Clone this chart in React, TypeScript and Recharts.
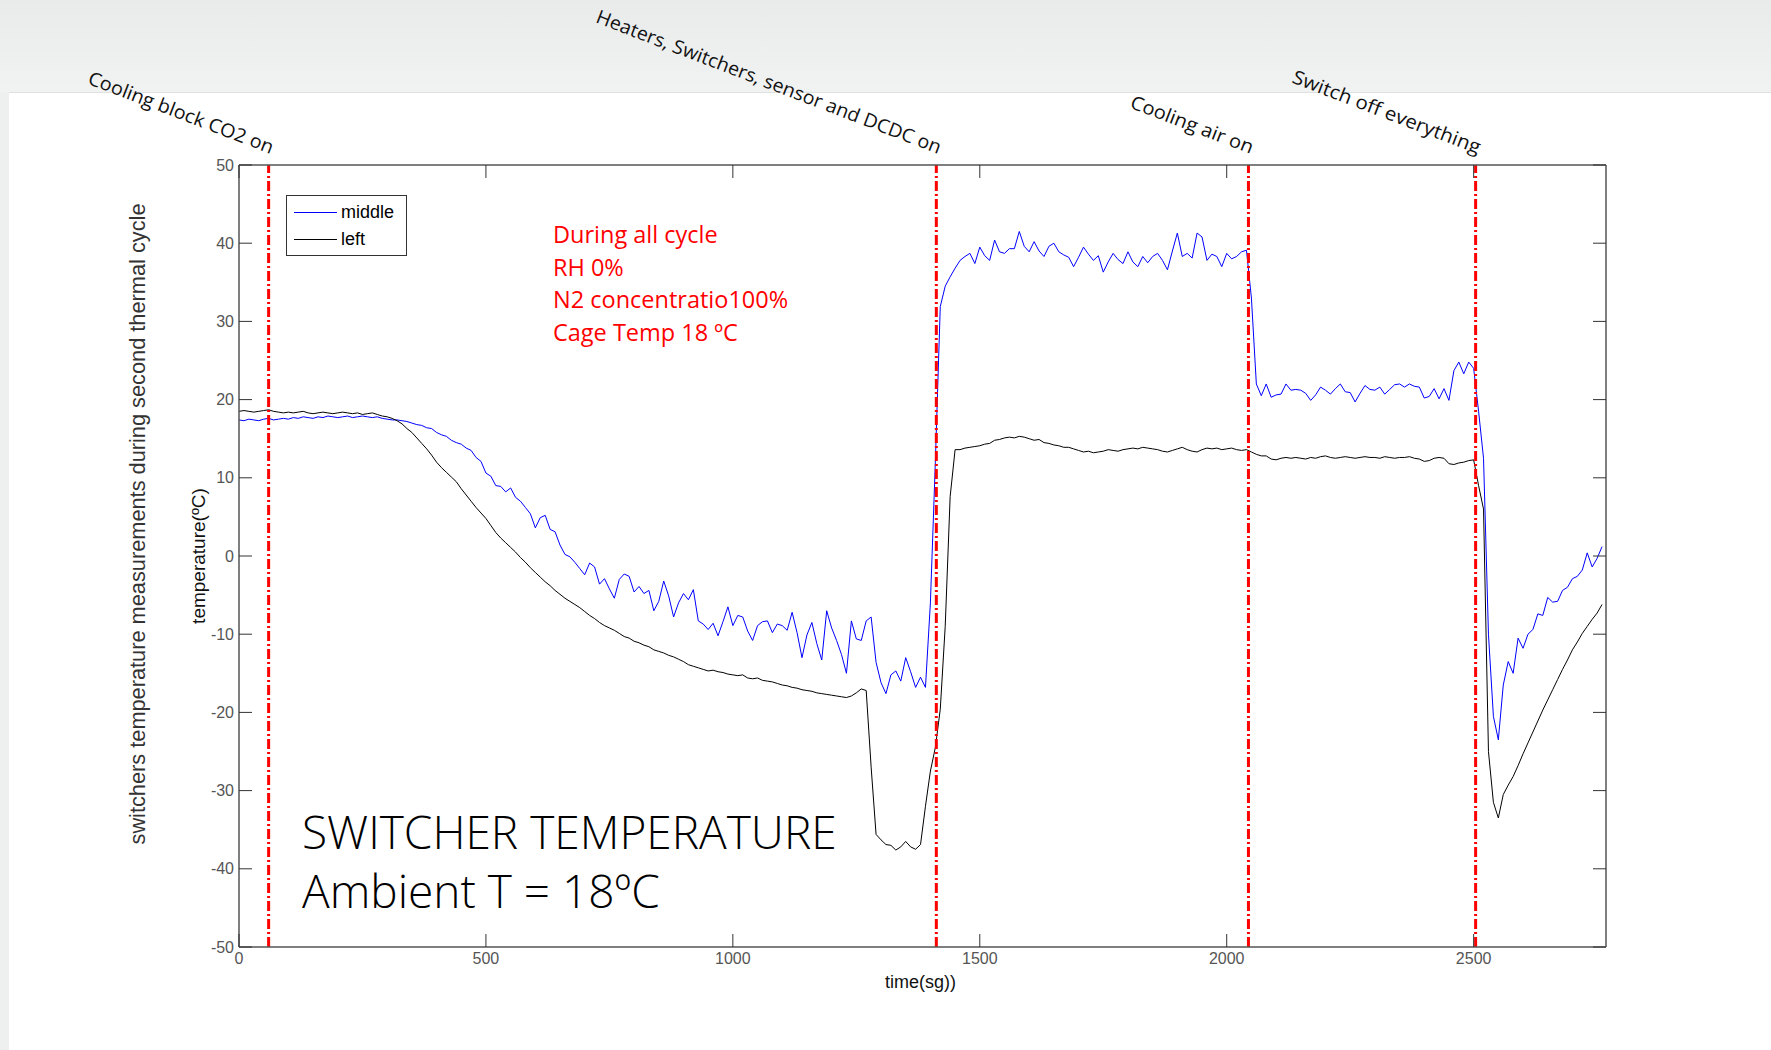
import React from "react";
import { LineChart, Line, XAxis, YAxis, ReferenceLine, Legend } from "recharts";

// one reading every 10 s, starting at t = 0
const SAMPLE_STEP = 10;

const middleTemp: number[] = [
  17.4, 17.3, 17.5, 17.4, 17.3, 17.5, 17.6, 17.4, 17.5, 17.6,
  17.5, 17.7, 17.6, 17.8, 17.7, 17.6, 17.8, 17.7, 17.9, 17.8,
  17.7, 17.8, 17.9, 17.7, 17.8, 17.9, 17.8, 17.7, 17.8, 17.6,
  17.5, 17.4, 17.4, 17.3, 17.2, 17.0, 16.8, 16.7, 16.4, 16.3,
  15.8, 15.5, 15.3, 14.8, 14.5, 14.3, 13.8, 13.5, 12.6, 12.1,
  10.6, 10.2, 9.0, 8.9, 8.2, 8.7, 7.5, 7.0, 6.2, 5.4,
  3.6, 4.9, 5.2, 3.4, 3.1, 1.4, 0.2, -0.1, -0.8, -1.6,
  -2.4, -0.9, -1.4, -3.6, -2.9, -4.2, -5.4, -3.0, -2.3, -2.6,
  -4.6, -3.9, -4.8, -4.4, -7.0, -5.8, -3.2, -5.1, -7.8, -6.0,
  -4.8, -5.6, -4.3, -8.3, -8.7, -9.4, -8.6, -10.2, -8.4, -6.5,
  -8.9, -7.6, -7.8, -9.6, -10.8, -8.9, -8.4, -8.3, -9.8, -8.7,
  -8.9, -9.5, -7.2, -9.8, -13.0, -10.1, -8.5, -11.2, -13.3, -7.0,
  -9.2, -10.8, -12.6, -15.0, -8.3, -10.6, -10.8, -8.3, -7.8, -13.6,
  -16.2, -17.6, -15.2, -14.7, -16.0, -13.0, -14.8, -16.8, -15.5, -16.8,
  -6.0, 12.0, 31.9, 34.5, 35.7, 36.8, 37.8, 38.3, 38.7, 37.4,
  39.5, 38.4, 37.8, 40.4, 38.9, 38.7, 39.3, 39.3, 41.5, 39.6,
  38.9, 40.2, 39.0, 38.3, 39.6, 40.0, 38.9, 38.5, 38.2, 37.0,
  38.2, 39.5, 38.6, 37.8, 38.4, 36.3, 37.6, 38.7, 37.9, 37.4,
  38.9, 37.6, 37.0, 38.3, 37.5, 38.3, 38.7, 37.8, 36.6, 39.0,
  41.3, 38.3, 38.7, 38.1, 41.3, 40.8, 37.8, 38.6, 38.3, 37.0,
  38.7, 38.0, 38.3, 38.9, 39.1, 33.0, 22.0, 20.5, 22.0, 20.3,
  20.6, 20.7, 22.0, 21.2, 21.3, 21.2, 20.8, 19.9, 20.6, 21.6,
  21.2, 20.7, 21.4, 22.0, 21.0, 20.9, 19.7, 20.8, 21.8, 21.3,
  21.2, 21.6, 20.7, 21.3, 21.9, 22.0, 21.6, 22.0, 21.7, 21.6,
  20.2, 20.4, 21.4, 20.1, 21.4, 19.9, 23.7, 24.8, 23.3, 24.8,
  24.0, 18.5, 12.5, -10.0, -20.5, -23.5, -16.5, -13.5, -15.0, -10.5,
  -11.8, -10.0, -9.4, -7.4, -7.6, -5.3, -5.9, -5.8, -4.4, -4.0,
  -2.9, -2.6, -1.8, 0.4, -1.4, -0.3, 1.2,
];

const leftTemp: number[] = [
  18.5, 18.6, 18.5, 18.4, 18.5, 18.6, 18.7, 18.5, 18.4, 18.3,
  18.4, 18.3, 18.4, 18.5, 18.3, 18.2, 18.3, 18.4, 18.3, 18.2,
  18.3, 18.4, 18.3, 18.2, 18.3, 18.1, 18.2, 18.3, 18.1, 17.9,
  17.8, 17.6, 17.3, 16.9, 16.3, 15.8, 15.1, 14.4, 13.7, 12.9,
  12.0, 11.3, 10.7, 10.1, 9.5, 8.6, 7.8, 7.0, 6.2, 5.5,
  4.8, 3.9, 3.0, 2.3, 1.7, 1.1, 0.5, -0.2, -0.8, -1.5,
  -2.1, -2.7, -3.3, -3.8, -4.4, -4.9, -5.4, -5.8, -6.2, -6.6,
  -7.1, -7.6, -8.0, -8.5, -8.9, -9.2, -9.5, -9.9, -10.3, -10.5,
  -10.9, -11.1, -11.4, -11.6, -12.0, -12.2, -12.4, -12.7, -12.9, -13.2,
  -13.5, -13.9, -14.1, -14.3, -14.5, -14.7, -14.6, -14.8, -14.9, -15.1,
  -15.2, -15.3, -15.2, -15.6, -15.7, -15.6, -15.9, -16.0, -16.1, -16.3,
  -16.5, -16.6, -16.8, -16.9, -17.1, -17.2, -17.3, -17.5, -17.6, -17.7,
  -17.8, -17.9, -18.0, -18.1, -17.9, -17.5, -17.0, -17.2, -27.0, -35.6,
  -36.3, -36.9, -37.0, -37.6, -37.2, -36.5, -37.2, -37.5, -36.9, -32.0,
  -27.5, -24.5, -19.6, -9.0, 7.6, 13.6, 13.6, 13.8, 13.9, 14.0,
  14.1, 14.3, 14.4, 14.8, 14.9, 15.1, 15.2, 15.1, 15.3, 15.2,
  15.0, 14.8, 14.9, 14.5, 14.4, 14.2, 14.1, 13.9, 13.9, 13.7,
  13.5, 13.3, 13.4, 13.2, 13.3, 13.4, 13.6, 13.5, 13.4, 13.6,
  13.7, 13.8, 13.7, 13.9, 13.8, 13.7, 13.6, 13.4, 13.3, 13.5,
  13.7, 13.9, 13.6, 13.4, 13.3, 13.6, 13.8, 13.7, 13.8, 13.6,
  13.7, 13.8, 13.6, 13.5, 13.6, 13.3, 13.0, 12.8, 12.8, 12.4,
  12.3, 12.5, 12.6, 12.5, 12.6, 12.5, 12.4, 12.6, 12.5, 12.7,
  12.8, 12.6, 12.5, 12.6, 12.7, 12.6, 12.5, 12.6, 12.7, 12.6,
  12.6, 12.5, 12.7, 12.6, 12.5, 12.6, 12.6, 12.7, 12.5, 12.4,
  12.1, 12.2, 12.5, 12.6, 12.5, 11.8, 11.7, 11.9, 12.0, 12.2,
  12.3, 9.0, 6.0, -25.0, -31.5, -33.5, -30.5, -29.3, -28.2, -26.8,
  -25.3, -23.9, -22.5, -21.1, -19.7, -18.4, -17.1, -15.8, -14.5, -13.3,
  -12.0, -11.0, -9.9, -9.0, -8.1, -7.3, -6.2,
];

const seriesNames = ["middle", "left"];

const xTicks = [0, 500, 1000, 1500, 2000, 2500];
const yTicks = [-50, -40, -30, -20, -10, 0, 10, 20, 30, 40, 50];

const eventTimes = [60, 1412, 2044, 2504];
const eventLabels = [
  "Cooling block CO2 on",
  "Heaters, Switchers, sensor and DCDC on",
  "Cooling air on",
  "Switch off everything",
];

const noteLines = ["During all cycle", "RH 0%", "N2 concentratio100%", "Cage Temp 18 ºC"];
const titleLines = ["SWITCHER TEMPERATURE", "Ambient T = 18ºC"];

const data = middleTemp.map((v, i) => ({
  t: i * SAMPLE_STEP,
  middle: v,
  left: leftTemp[i],
}));

const AXIS_FONT = "'Liberation Sans', Arial, sans-serif";
const TICK_LEN = 13;
// widths the rotated notes take in the original slide
const eventLabelLengths = [197, 368, 130, 200];

const BottomTick = (props: any) => {
  const { x, y, payload } = props;
  const base = y - 6;
  return (
    <g>
      <line x1={x} y1={base} x2={x} y2={base - TICK_LEN} stroke="#333" />
      <text x={x} y={y} dy="0.71em" textAnchor="middle" fontFamily={AXIS_FONT} fontSize={16} fill="#555">
        {payload.value}
      </text>
    </g>
  );
};

const LeftTick = (props: any) => {
  const { x, y, payload } = props;
  const base = x + 5;
  return (
    <g>
      <line x1={base} y1={y} x2={base + TICK_LEN} y2={y} stroke="#333" />
      <text x={x} y={y} dy="0.35em" textAnchor="end" fontFamily={AXIS_FONT} fontSize={16} fill="#555">
        {payload.value}
      </text>
    </g>
  );
};

const TopTick = (props: any) => {
  const { x, y } = props;
  return <line x1={x} y1={y} x2={x} y2={y + TICK_LEN} stroke="#333" />;
};

const RightTick = (props: any) => {
  const { x, y } = props;
  return <line x1={x} y1={y} x2={x - TICK_LEN} y2={y} stroke="#333" />;
};

const renderLegend = (props: any) => {
  const items = [...(props.payload || [])].sort(
    (a: any, b: any) => seriesNames.indexOf(a.value) - seriesNames.indexOf(b.value)
  );
  return (
    <div
      style={{
        border: "1px solid #333",
        background: "#fff",
        boxSizing: "border-box",
        width: 121,
        height: 61,
        paddingTop: 3,
        fontFamily: AXIS_FONT,
        fontSize: 18,
        color: "#000",
      }}
    >
      {items.map((entry: any) => (
        <div key={entry.value} style={{ display: "flex", alignItems: "center", height: 27 }}>
          <span
            style={{
              display: "inline-block",
              width: 43,
              borderTop: `1px solid ${entry.color}`,
              marginLeft: 7,
              marginRight: 4,
            }}
          />
          <span>{entry.value}</span>
        </div>
      ))}
    </div>
  );
};

export default function App() {
  return (
    <div
      style={{
        position: "absolute",
        left: 0,
        top: 0,
        width: 1771,
        height: 1050,
        overflow: "hidden",
        background: "linear-gradient(to bottom, #e9ebeb 0px, #f1f2f2 92px, #eef0f0 93px)",
      }}
    >
      <div
        style={{
          position: "absolute",
          left: 9,
          top: 92,
          right: 0,
          bottom: 0,
          background: "#fff",
          borderTop: "1px solid #dfe1e1",
        }}
      />
      <div style={{ position: "absolute", left: 0, top: 0 }}>
        <LineChart
          width={1771}
          height={1050}
          data={data}
          margin={{ top: 164, right: 164, bottom: 73, left: 199 }}
        >
          <XAxis
            dataKey="t"
            type="number"
            domain={[0, 2768]}
            ticks={xTicks}
            interval={0}
            allowDataOverflow
            height={30}
            tickSize={0}
            tickMargin={6}
            tickLine={false}
            axisLine={{ stroke: "#555", strokeWidth: 1.5 }}
            tick={<BottomTick />}
            label={(p: any) => {
              const vb = p.viewBox;
              return (
                <text
                  x={vb.x + vb.width / 2 - 2}
                  y={vb.y + 41}
                  textAnchor="middle"
                  fontFamily={AXIS_FONT}
                  fontSize={18}
                  fill="#111"
                >
                  time(sg))
                </text>
              );
            }}
          />
          <XAxis
            xAxisId="top"
            orientation="top"
            dataKey="t"
            type="number"
            domain={[0, 2768]}
            ticks={xTicks}
            interval={0}
            allowDataOverflow
            height={1}
            tickSize={0}
            tickMargin={0}
            tickLine={false}
            axisLine={{ stroke: "#555", strokeWidth: 1.5 }}
            tick={<TopTick />}
          />
          <YAxis
            type="number"
            domain={[-50, 50]}
            ticks={yTicks}
            interval={0}
            allowDataOverflow
            width={40}
            tickSize={0}
            tickMargin={5}
            tickLine={false}
            axisLine={{ stroke: "#555", strokeWidth: 1.5 }}
            tick={<LeftTick />}
            label={(p: any) => {
              const vb = p.viewBox;
              const cx = vb.x + vb.width - 41;
              const cy = vb.y + vb.height / 2;
              return (
                <text
                  x={cx}
                  y={cy}
                  transform={`rotate(-90 ${cx} ${cy})`}
                  textAnchor="middle"
                  dominantBaseline="central"
                  fontFamily={AXIS_FONT}
                  fontSize={19}
                  fill="#111"
                >
                  temperature(ºC)
                </text>
              );
            }}
          />
          <YAxis
            yAxisId="right"
            orientation="right"
            type="number"
            domain={[-50, 50]}
            ticks={yTicks}
            interval={0}
            allowDataOverflow
            width={1}
            tickSize={0}
            tickMargin={0}
            tickLine={false}
            axisLine={{ stroke: "#555", strokeWidth: 1.5 }}
            tick={<RightTick />}
          />
          <Legend
            layout="vertical"
            align="center"
            verticalAlign="middle"
            wrapperStyle={{ left: 286, top: 195, width: 121, height: 61 }}
            content={renderLegend}
          />
          <Line
            type="linear"
            dataKey="middle"
            name="middle"
            stroke="#0000ff"
            strokeWidth={1}
            dot={false}
            isAnimationActive={false}
          />
          <Line
            type="linear"
            dataKey="left"
            name="left"
            stroke="#000000"
            strokeWidth={1}
            dot={false}
            isAnimationActive={false}
          />
          {eventTimes.map((t, i) => (
            <ReferenceLine
              key={t}
              x={t}
              stroke="#ff0000"
              strokeWidth={3}
              strokeDasharray="10 3 2 3"
              label={(p: any) => {
                const vb = p.viewBox;
                const x = vb.x + 2;
                const y = vb.y - 11;
                return (
                  <text
                    x={x}
                    y={y}
                    transform={`rotate(21 ${x} ${y})`}
                    textAnchor="end"
                    textLength={eventLabelLengths[i]}
                    lengthAdjust="spacingAndGlyphs"
                    fontFamily="'Open Sans', sans-serif"
                    fontSize={19}
                    fill="#111"
                  >
                    {eventLabels[i]}
                  </text>
                );
              }}
            />
          ))}
        </LineChart>
      </div>
      <svg
        width={1771}
        height={1050}
        style={{ position: "absolute", left: 0, top: 0, pointerEvents: "none" }}
      >
        <text
          x={138}
          y={524}
          transform="rotate(-90 138 524)"
          textAnchor="middle"
          dominantBaseline="central"
          textLength={641}
          lengthAdjust="spacingAndGlyphs"
          fontFamily={AXIS_FONT}
          fontSize={21.5}
          fill="#333"
        >
          switchers temperature measurements during second thermal cycle
        </text>
        {noteLines.map((line, i) => (
          <text
            key={line}
            x={553}
            y={243 + i * 32.5}
            fontFamily="'Open Sans', sans-serif"
            fontSize={23.5}
            fill="#ff0000"
          >
            {line}
          </text>
        ))}
        {titleLines.map((line, i) => (
          <text
            key={line}
            x={302}
            y={849 + i * 59}
            fontFamily="'Open Sans', sans-serif"
            fontWeight={300}
            fontSize={46}
            fill="#000"
          >
            {line}
          </text>
        ))}
      </svg>
    </div>
  );
}
